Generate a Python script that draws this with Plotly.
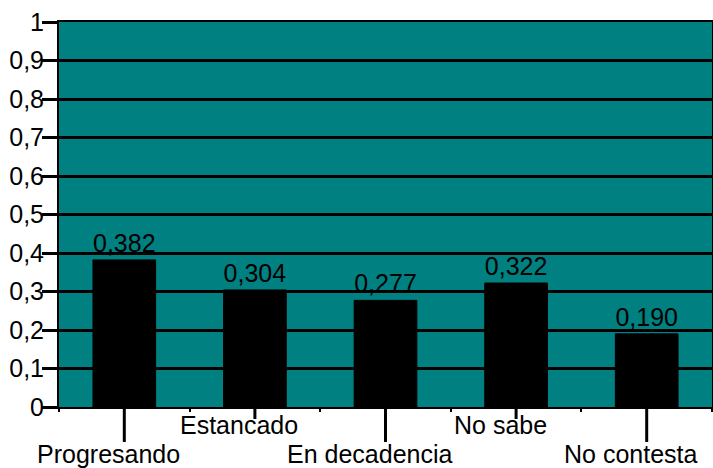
import plotly.graph_objects as go

categories = ["Progresando", "Estancado", "En decadencia", "No sabe", "No contesta"]
values = [0.382, 0.304, 0.277, 0.322, 0.190]
label_level = ["low", "high", "low", "high", "low"]
y_ticks = [0, 0.1, 0.2, 0.3, 0.4, 0.5, 0.6, 0.7, 0.8, 0.9, 1]

FONT = "Liberation Sans, Arial, sans-serif"
FS = 25

fig = go.Figure()
fig.add_trace(go.Bar(
    x=categories, y=values,
    marker=dict(color="#000000", line=dict(color="#000000", width=1)),
    texttemplate="%{y:.3f}", textposition="outside",
    textfont=dict(family=FONT, size=FS, color="#000000"),
    cliponaxis=False,
))

shapes = []
annotations = []
for cat, lvl in zip(categories, label_level):
    drop = 12 if lvl == "high" else 35
    shapes.append(dict(type="line", xref="x", yref="paper", x0=cat, x1=cat,
                       y0=0, y1=-drop / 385, line=dict(color="#000000", width=3)))
    annotations.append(dict(x=cat, xref="x", yref="paper", y=0,
                            yshift=-(2 if lvl == "high" else 31), xshift=-16,
                            yanchor="top", xanchor="center", showarrow=False,
                            text=cat, font=dict(family=FONT, size=FS, color="#000000")))

fig.update_layout(
    width=713, height=468,
    margin=dict(l=59, r=1, t=22, b=61),
    paper_bgcolor="#ffffff", plot_bgcolor="#008080",
    separators=",.",
    bargap=0.52,
    showlegend=False,
    shapes=shapes, annotations=annotations,
    font=dict(family=FONT, size=FS, color="#000000"),
)
fig.update_xaxes(
    range=[-0.5, 4.5], automargin=False,
    showticklabels=False, showline=True, mirror=True, linecolor="#000000", linewidth=2,
    ticks="outside", tickson="boundaries", ticklen=3, tickwidth=2, tickcolor="#000000",
    showgrid=False,
)
fig.update_yaxes(
    range=[0, 1], tickvals=y_ticks, automargin=False,
    showline=True, mirror=True, linecolor="#000000", linewidth=2,
    ticks="outside", ticklen=15, tickwidth=3, tickcolor="#000000",
    showgrid=True, gridcolor="#000000", gridwidth=3, zeroline=False,
    tickfont=dict(family=FONT, size=FS, color="#000000"),
    ticklabelstandoff=-7,
)

fig.write_html("out.html", config={"displayModeBar": False},
               post_script="document.body.style.margin='0';document.body.style.overflow='hidden';")
